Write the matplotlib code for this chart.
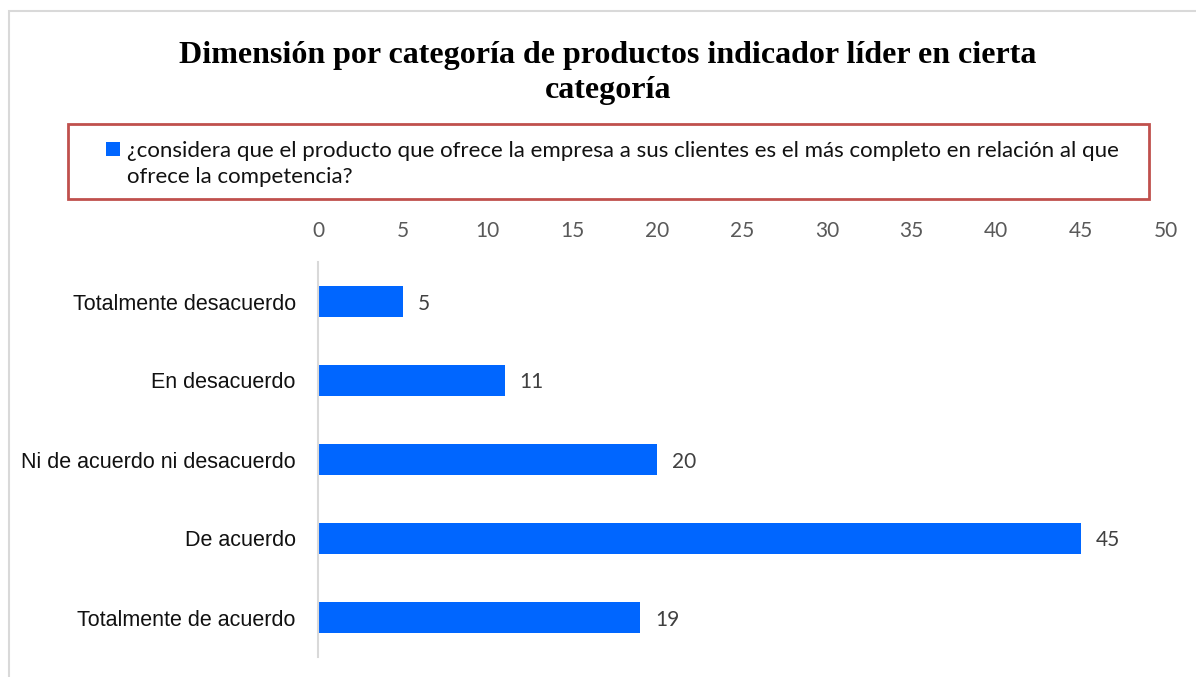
import matplotlib
matplotlib.use('Agg')
import matplotlib.pyplot as plt
from matplotlib.patches import Rectangle

# Survey answers, top to bottom
categories = ['Totalmente desacuerdo', 'En desacuerdo', 'Ni de acuerdo ni desacuerdo',
              'De acuerdo', 'Totalmente de acuerdo']
values = [5, 11, 20, 45, 19]
ticks = [0, 5, 10, 15, 20, 25, 30, 35, 40, 45, 50]

title = 'Dimensión por categoría de productos indicador líder en cierta\ncategoría'
series_label = ('¿considera que el producto que ofrece la empresa a sus clientes es el más completo en relación al que\n'
                'ofrece la competencia?')

bar_color = '#0066FF'
W, H = 1196, 677

fig = plt.figure(figsize=(W / 100, H / 100), dpi=100)
fig.patch.set_facecolor('white')

# outer chart border (light grey, runs off the right/bottom edge)
fig.patches.append(Rectangle((9 / W, -0.05), 1.2, 1 - 11 / H + 0.05, transform=fig.transFigure,
                             fill=False, edgecolor='#D9D9D9', linewidth=1.5))

ax = fig.add_axes([318 / W, 1 - 657 / H, (1166 - 318) / W, (657 - 262) / H])
pos = list(range(len(categories)))
bars = ax.barh(pos, values, height=0.4, color=bar_color)
ax.set_ylim(len(categories) - 0.5, -0.5)
ax.set_xlim(0, 50)
ax.set_yticks(pos)
ax.set_yticklabels(categories, fontfamily='Liberation Sans', fontsize=15.5, color='#111111')
ax.set_xticks(ticks)
ax.xaxis.tick_top()
ax.tick_params(axis='x', length=0, pad=15, labelsize=15, labelcolor='#595959')
ax.tick_params(axis='y', length=0, pad=16)
for lab in ax.get_xticklabels():
    lab.set_fontfamily('Lato')
for side in ['top', 'right', 'bottom']:
    ax.spines[side].set_visible(False)
ax.spines['left'].set_color('#D9D9D9')
ax.spines['left'].set_linewidth(1.5)

for b, v in zip(bars, values):
    ax.annotate(str(v), (b.get_width(), b.get_y() + b.get_height() / 2),
                xytext=(15, -2), textcoords='offset pixels', va='center', ha='left',
                fontfamily='Lato', fontsize=15, color='#404040')

fig.text(608 / W, 1 - 73 / H, title, ha='center', va='center', fontfamily='Liberation Serif',
         fontweight='bold', fontsize=23, linespacing=1.25)

# legend box drawn by hand so the marker sits on the first line
fig.patches.append(Rectangle((68 / W, 1 - 199 / H), (1149 - 68) / W, 75 / H, transform=fig.transFigure,
                             fill=False, edgecolor='#C0504D', linewidth=2))
fig.patches.append(Rectangle((106 / W, 1 - 156 / H), 14 / W, 14 / H, transform=fig.transFigure,
                             facecolor=bar_color, edgecolor='none'))
fig.text(127 / W, 1 - 164 / H, series_label, ha='left', va='center', fontfamily='Lato',
         fontsize=16, color='#111111', linespacing=1.4)

fig.savefig('out.png', dpi=100)
